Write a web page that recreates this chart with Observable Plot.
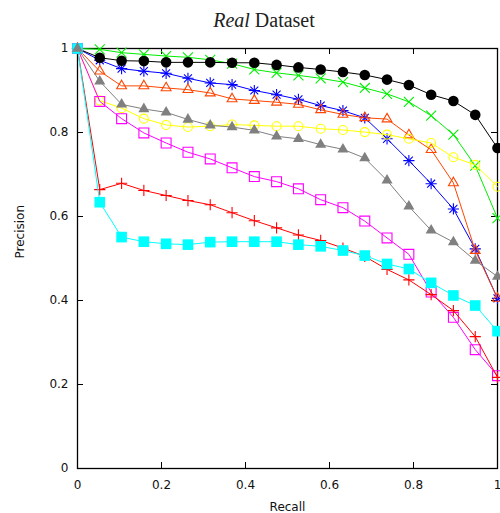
<!DOCTYPE html>
<html><head><meta charset="utf-8">
<script src="https://cdn.jsdelivr.net/npm/d3@7"></script>
<script src="https://cdn.jsdelivr.net/npm/@observablehq/plot@0.6"></script>
<style>
body{margin:0;background:#fff;overflow:hidden;}
#title{height:40px;position:relative;font-family:"Liberation Serif","Times New Roman",serif;font-size:20px;color:#222;}
#title span{position:absolute;left:0;width:500px;padding-left:28px;box-sizing:border-box;text-align:center;top:10px;line-height:20px;white-space:nowrap;}
#chart svg{display:block;}
</style></head><body>
<div id="title"><span><i>Real</i> Dataset</span></div>
<div id="chart"></div>
<script>
// ---- data ----
const recall = [0, 0.053, 0.105, 0.158, 0.211, 0.263, 0.316, 0.368, 0.421, 0.474, 0.526, 0.579, 0.632, 0.684, 0.737, 0.789, 0.842, 0.895, 0.947, 1];
const blackSeries  = [1, 0.978, 0.971, 0.970, 0.967, 0.967, 0.967, 0.966, 0.966, 0.961, 0.955, 0.950, 0.944, 0.937, 0.926, 0.913, 0.890, 0.875, 0.842, 0.763];
const greenSeries  = [1, 0.998, 0.990, 0.986, 0.982, 0.979, 0.973, 0.964, 0.950, 0.942, 0.936, 0.929, 0.920, 0.906, 0.892, 0.873, 0.840, 0.795, 0.721, 0.596];
const blueSeries   = [1, 0.972, 0.952, 0.946, 0.941, 0.929, 0.918, 0.914, 0.900, 0.890, 0.879, 0.864, 0.852, 0.835, 0.785, 0.733, 0.678, 0.618, 0.523, 0.405];
const orangeSeries = [1, 0.946, 0.911, 0.911, 0.906, 0.902, 0.894, 0.880, 0.876, 0.872, 0.867, 0.854, 0.843, 0.835, 0.832, 0.794, 0.759, 0.680, 0.519, 0.405];
const yellowSeries = [1, 0.876, 0.858, 0.833, 0.818, 0.813, 0.815, 0.819, 0.817, 0.815, 0.815, 0.809, 0.806, 0.801, 0.795, 0.785, 0.775, 0.741, 0.723, 0.671];
const graySeries   = [1, 0.922, 0.867, 0.856, 0.848, 0.831, 0.817, 0.813, 0.805, 0.791, 0.785, 0.771, 0.760, 0.739, 0.686, 0.624, 0.567, 0.539, 0.495, 0.457];
const magentaSeries= [1, 0.874, 0.833, 0.799, 0.775, 0.753, 0.737, 0.716, 0.695, 0.683, 0.666, 0.640, 0.621, 0.589, 0.549, 0.510, 0.420, 0.360, 0.283, 0.221];
const redSeries    = [1, 0.664, 0.679, 0.662, 0.650, 0.638, 0.628, 0.609, 0.590, 0.573, 0.556, 0.543, 0.525, 0.505, 0.474, 0.449, 0.414, 0.376, 0.314, 0.217];
const cyanSeries   = [1, 0.634, 0.551, 0.540, 0.535, 0.533, 0.539, 0.540, 0.540, 0.540, 0.533, 0.529, 0.519, 0.507, 0.487, 0.475, 0.442, 0.412, 0.388, 0.327];
const xTicks = [0, 0.2, 0.4, 0.6, 0.8, 1];
const xTickLabels = ["0", "0.2", "0.4", "0.6", "0.8", "1"];
const yTicks = [0, 0.2, 0.4, 0.6, 0.8, 1];
const yTickLabels = ["0", "0.2", "0.4", "0.6", "0.8", "1"];
const xLabel = "Recall";
const yLabel = "Precision";

// ---- styles ----
const styles = [
  {values: blueSeries,    color: "#0000ff", symbols: [{s: "plus", r: 3.7, filled: false}, {s: "times", r: 3.7, filled: false}]},
  {values: orangeSeries,  color: "#ff4500", symbols: [{s: "triangle2", r: 4.7, filled: false}]},
  {values: greenSeries,   color: "#00ee00", symbols: [{s: "times", r: 4.6, filled: false}]},
  {values: blackSeries,   color: "#000000", symbols: [{s: "circle", r: 5.3, filled: true}]},
  {values: yellowSeries,  color: "#ffff00", symbols: [{s: "circle", r: 4.5, filled: false}]},
  {values: magentaSeries, color: "#ff00ff", symbols: [{s: "square2", r: 6.3, filled: false}]},
  {values: redSeries,     color: "#ff0000", symbols: [{s: "plus", r: 3.7, filled: false}]},
  {values: cyanSeries,    color: "#00ffff", symbols: [{s: "square", r: 6.0, filled: true}]},
  {values: graySeries,    color: "#808080", symbols: [{s: "triangle", r: 4.1, filled: true}]}
];

const marks = [
  Plot.frame({stroke: "#000", strokeWidth: 1.3}),
  Plot.tickX(xTicks, {x: d => d, insetTop: 414, stroke: "#000"}),
  Plot.tickX(xTicks, {x: d => d, insetBottom: 414, stroke: "#000"}),
  Plot.tickY(yTicks, {y: d => d, insetRight: 414, stroke: "#000"}),
  Plot.tickY(yTicks, {y: d => d, insetLeft: 414, stroke: "#000"}),
  Plot.axisX(xTicks, {tickSize: 0, tickPadding: 12, tickFormat: d => xTickLabels[xTicks.indexOf(d)], label: null, fontSize: 12}),
  Plot.axisY(yTicks, {tickSize: 0, tickPadding: 9, tickFormat: d => yTickLabels[yTicks.indexOf(d)], label: null, fontSize: 12}),
  Plot.text([xLabel], {text: d => d, frameAnchor: "bottom", lineAnchor: "middle", dy: 38.5, fontSize: 12}),
  Plot.text([yLabel], {text: d => d, frameAnchor: "left", rotate: -90, dx: -57, fontSize: 12})
];

for (const st of styles) {
  const data = recall.map((r, i) => ({recall: r, precision: st.values[i]}));
  marks.push(Plot.line(data, {x: "recall", y: "precision", stroke: st.color, strokeWidth: 1}));
  for (const sym of st.symbols) {
    marks.push(Plot.dot(data, {
      x: "recall", y: "precision", symbol: sym.s, r: sym.r,
      fill: sym.filled ? st.color : "none",
      stroke: sym.filled ? "none" : st.color,
      strokeWidth: 1.1
    }));
  }
}

const chart = Plot.plot({
  width: 500,
  height: 473,
  marginLeft: 77,
  marginRight: 3,
  marginTop: 8,
  marginBottom: 45,
  style: {fontFamily: "DejaVu Sans", fontSize: "12px", color: "#111", background: "#fff"},
  x: {domain: [0, 1]},
  y: {domain: [0, 1]},
  marks
});
document.getElementById("chart").appendChild(chart);
</script>
</body></html>
